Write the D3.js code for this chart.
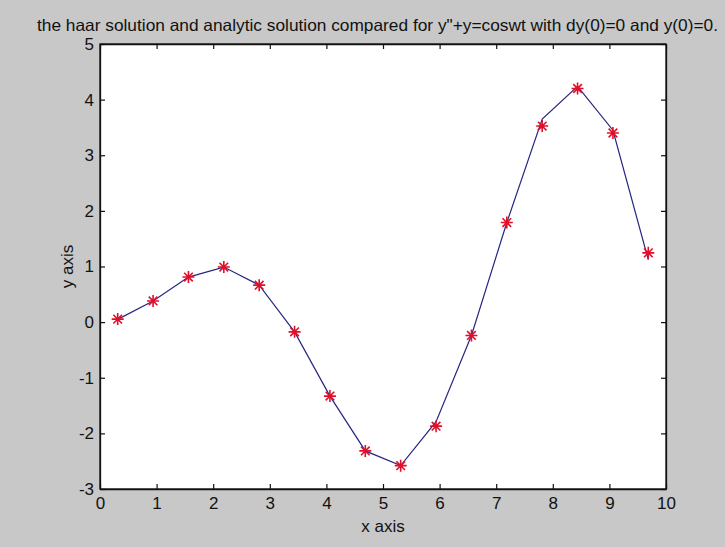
<!DOCTYPE html>
<html>
<head>
<meta charset="utf-8">
<script src="https://cdn.jsdelivr.net/npm/d3@7"></script>
<style>
  html, body { margin: 0; padding: 0; background: #c8c8c8; }
  svg { display: block; }
  text { font-family: "Liberation Sans", Arial, Helvetica, sans-serif; fill: #111; }
</style>
</head>
<body>
<svg id="fig" width="725" height="547"></svg>
<script>
// collocation points on [0, 10] (16 Haar nodes)
const xNodes = [0.3125, 0.9375, 1.5625, 2.1875, 2.8125, 3.4375, 4.0625, 4.6875,
                5.3125, 5.9375, 6.5625, 7.1875, 7.8125, 8.4375, 9.0625, 9.6875];
// Haar wavelet solution (line)
const haarValues = [0.05, 0.38, 0.81, 0.99, 0.665, -0.175, -1.33, -2.315,
                    -2.58, -1.79, -0.24, 1.79, 3.65, 4.24, 3.45, 1.12];
// analytic solution (asterisks)
const analyticValues = [0.054, 0.38, 0.81, 0.99, 0.665, -0.175, -1.33, -2.315,
                        -2.58, -1.87, -0.24, 1.79, 3.525, 4.20, 3.40, 1.245];
const xTicks = [0, 1, 2, 3, 4, 5, 6, 7, 8, 9, 10];
const yTicks = [-3, -2, -1, 0, 1, 2, 3, 4, 5];
const titleText = 'the haar solution and analytic solution compared for y"+y=coswt with dy(0)=0 and y(0)=0.';

const svg = d3.select("#fig");
const plotLeft = 100, plotRight = 666, plotTop = 44, plotBottom = 489;

const x = d3.scaleLinear().domain([0, 10]).range([plotLeft, plotRight]);
const y = d3.scaleLinear().domain([-3, 5]).range([plotBottom, plotTop]);

// axes area
svg.append("rect")
  .attr("x", plotLeft).attr("y", plotTop)
  .attr("width", plotRight - plotLeft).attr("height", plotBottom - plotTop)
  .attr("fill", "#fff");

const tickLen = 5;
const fs = 17;
const plain = d => String(d);   // ASCII hyphen for negatives

// bottom axis: inward ticks, labels below
const gx = svg.append("g").attr("transform", `translate(0,${plotBottom})`)
  .call(d3.axisBottom(x).tickValues(xTicks).tickFormat(plain)
        .tickSizeInner(-tickLen).tickSizeOuter(0).tickPadding(8));
// left axis
const gy = svg.append("g").attr("transform", `translate(${plotLeft},0)`)
  .call(d3.axisLeft(y).tickValues(yTicks).tickFormat(plain)
        .tickSizeInner(-tickLen).tickSizeOuter(0).tickPadding(6));
// top and right mirrored ticks, no labels
const gt = svg.append("g").attr("transform", `translate(0,${plotTop})`)
  .call(d3.axisTop(x).tickValues(xTicks).tickFormat("")
        .tickSizeInner(-tickLen).tickSizeOuter(0));
const gr = svg.append("g").attr("transform", `translate(${plotRight},0)`)
  .call(d3.axisRight(y).tickValues(yTicks).tickFormat("")
        .tickSizeInner(-tickLen).tickSizeOuter(0));

[gx, gy, gt, gr].forEach(g => {
  g.select(".domain").attr("stroke", "#111").attr("stroke-width", 1.3);
  g.selectAll(".tick line").attr("stroke", "#111").attr("stroke-width", 1.2);
  g.selectAll(".tick text")
    .attr("font-size", fs)
    .attr("font-family", '"Liberation Sans", Arial, sans-serif')
    .attr("fill", "#111");
});

// frame edges drawn on top
svg.append("rect")
  .attr("x", plotLeft).attr("y", plotTop)
  .attr("width", plotRight - plotLeft).attr("height", plotBottom - plotTop)
  .attr("fill", "none").attr("stroke", "#111").attr("stroke-width", 1.3);

// Haar solution line
const line = d3.line().x((d, i) => x(xNodes[i])).y(d => y(d));
svg.append("path")
  .datum(haarValues)
  .attr("d", line)
  .attr("fill", "none")
  .attr("stroke", "#262680")
  .attr("stroke-width", 1.2);

// asterisk markers for the analytic solution
function asterisk(cx, cy, r) {
  const p = d3.path();
  p.moveTo(cx - r, cy); p.lineTo(cx + r, cy);
  p.moveTo(cx, cy - r); p.lineTo(cx, cy + r);
  const d = r * 0.72;
  p.moveTo(cx - d, cy - d); p.lineTo(cx + d, cy + d);
  p.moveTo(cx - d, cy + d); p.lineTo(cx + d, cy - d);
  return p.toString();
}
svg.append("g").selectAll("path")
  .data(analyticValues)
  .join("path")
  .attr("d", (d, i) => asterisk(x(xNodes[i]), y(d), 6))
  .attr("stroke", "#e0102a")
  .attr("stroke-width", 1.6)
  .attr("fill", "none");

// title and axis labels
svg.append("text")
  .attr("x", 377.5).attr("y", 31)
  .attr("text-anchor", "middle")
  .attr("font-size", 16.5)
  .attr("textLength", 681)
  .attr("lengthAdjust", "spacingAndGlyphs")
  .text(titleText);

svg.append("text")
  .attr("x", (plotLeft + plotRight) / 2).attr("y", 532)
  .attr("text-anchor", "middle")
  .attr("font-size", fs)
  .text("x axis");

svg.append("text")
  .attr("transform", `translate(73,${(plotTop + plotBottom) / 2}) rotate(-90)`)
  .attr("text-anchor", "middle")
  .attr("font-size", fs)
  .text("y axis");
</script>
</body>
</html>
